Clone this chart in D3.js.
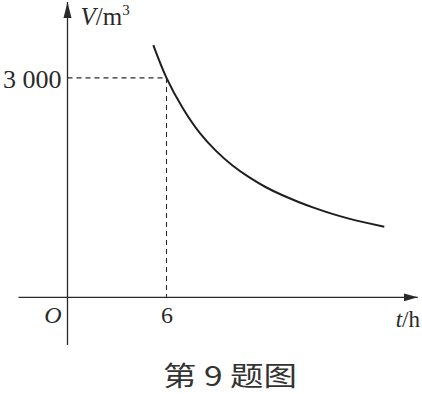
<!DOCTYPE html>
<html>
<head>
<meta charset="utf-8">
<script src="https://cdn.jsdelivr.net/npm/d3@7"></script>
<style>
  html, body { margin: 0; padding: 0; background: #fff; }
  svg { display: block; }
</style>
</head>
<body>
<svg id="chart" width="422" height="394"></svg>
<script>
// curve: t in hours, V in m^3
const tHours = [5.2, 6, 7, 8, 9, 10, 11, 12, 13, 14, 15, 16, 17, 18, 19.2];
const volume = [3450, 3000, 2580, 2250, 2000, 1800, 1640, 1505, 1395, 1300, 1215, 1140, 1075, 1020, 960];

// marked point and tick labels
const markT = [6];
const markV = [3000];
const xTickLabels = ["6"];
const yTickLabels = ["3 000"];

const svg = d3.select("#chart");

// axis extents include a bit past the origin, like the textbook figure
const x = d3.scaleLinear().domain([-3, 21.2]).range([18, 417.3]);
const y = d3.scaleLinear().domain([-660, 4040]).range([345, 2]);

const ink = "#2a2a2a";
const serif = "Liberation Serif, Times New Roman, serif";

//-------------- arrow heads ----------------------------
const defs = svg.append("defs");
defs.append("marker")
    .attr("id", "arrowX")
    .attr("markerUnits", "userSpaceOnUse")
    .attr("markerWidth", 14).attr("markerHeight", 10)
    .attr("viewBox", "0 0 14 10")
    .attr("refX", 14).attr("refY", 5)
    .attr("orient", "auto")
    .append("path").attr("d", "M0,1 L14,5 L0,9 Z").attr("fill", ink);
defs.append("marker")
    .attr("id", "arrowY")
    .attr("markerUnits", "userSpaceOnUse")
    .attr("markerWidth", 16).attr("markerHeight", 10)
    .attr("viewBox", "0 0 16 10")
    .attr("refX", 16).attr("refY", 5)
    .attr("orient", "auto")
    .append("path").attr("d", "M0,1 L16,5 L0,9 Z").attr("fill", ink);

//-------------- dashed guides --------------------------
const guide = svg.append("g")
    .attr("stroke", ink)
    .attr("stroke-width", 1.1)
    .attr("stroke-dasharray", "5,4")
    .attr("fill", "none");
markT.forEach((t, i) => {
    guide.append("line")
        .attr("x1", x(0)).attr("x2", x(t))
        .attr("y1", y(markV[i])).attr("y2", y(markV[i]));
    guide.append("line")
        .attr("x1", x(t)).attr("x2", x(t))
        .attr("y1", y(markV[i])).attr("y2", y(0));
});

//-------------- axes -----------------------------------
const xAxis = svg.append("g")
    .attr("transform", `translate(0,${y(0)})`)
    .call(d3.axisBottom(x).tickValues(markT).tickSize(0).tickSizeOuter(0)
        .tickPadding(9).tickFormat((d, i) => xTickLabels[i]));
xAxis.select(".domain")
    .attr("stroke", ink).attr("stroke-width", 1.3)
    .attr("marker-end", "url(#arrowX)");
xAxis.selectAll("text")
    .attr("font-family", serif)
    .attr("font-size", 24).attr("fill", ink);

// y axis drawn upward so the arrow sits at the top
const yAxis = svg.append("g")
    .attr("transform", `translate(${x(0)},0)`)
    .call(d3.axisLeft(y).tickValues(markV).tickSize(0).tickSizeOuter(0)
        .tickPadding(6).tickFormat((d, i) => yTickLabels[i]));
yAxis.select(".domain")
    .attr("stroke", ink).attr("stroke-width", 1.3)
    .attr("d", `M0,${y.range()[0]}V${y.range()[1]}`)
    .attr("marker-end", "url(#arrowY)");
yAxis.selectAll("text")
    .attr("font-family", serif)
    .attr("font-size", 26).attr("dy", "0.36em").attr("fill", ink);

//-------------- curve ----------------------------------
const pts = tHours.map((t, i) => [t, volume[i]]);
svg.append("path")
    .datum(pts)
    .attr("fill", "none")
    .attr("stroke", "#1e1e1e")
    .attr("stroke-width", 2)
    .attr("d", d3.line().x(d => x(d[0])).y(d => y(d[1])).curve(d3.curveNatural));

//-------------- labels ---------------------------------
const vLab = svg.append("text")
    .attr("x", x(0) + 13).attr("y", 25)
    .attr("font-family", serif).attr("font-size", 25).attr("fill", ink);
vLab.append("tspan").attr("font-style", "italic").text("V");
vLab.append("tspan").text("/m");
vLab.append("tspan").attr("font-size", 15).attr("dy", -10).text("3");

const tLab = svg.append("text")
    .attr("x", 420).attr("y", 327)
    .attr("text-anchor", "end")
    .attr("font-family", serif).attr("font-size", 23).attr("fill", ink);
tLab.append("tspan").attr("font-style", "italic").text("t");
tLab.append("tspan").text("/h");

svg.append("text")
    .attr("x", x(0) - 6).attr("y", 323)
    .attr("text-anchor", "end")
    .attr("font-family", serif).attr("font-style", "italic")
    .attr("font-size", 24).attr("fill", ink)
    .text("O");

svg.append("text")
    .attr("x", 163).attr("y", 386)
    .attr("font-family", "Noto Sans CJK SC, sans-serif")
    .attr("font-size", 27).attr("fill", "#333")
    .attr("xml:space", "preserve")
    .attr("textLength", 134).attr("lengthAdjust", "spacingAndGlyphs")
    .text("第 9 题图");
</script>
</body>
</html>
